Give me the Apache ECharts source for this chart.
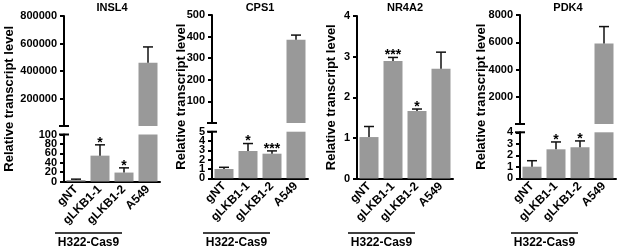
<!DOCTYPE html>
<html>
<head>
<meta charset="utf-8">
<script src="https://cdn.jsdelivr.net/npm/echarts@6/dist/echarts.min.js"></script>
<style>
  html, body { margin: 0; padding: 0; background: #fff; }
  #chart { width: 617px; height: 249px; }
</style>
</head>
<body>
<div id="chart"></div>
<script>
// categories and labels
const categories = ['gNT', 'gLKB1-1', 'gLKB1-2', 'A549'];
const genes = ['INSL4', 'CPS1', 'NR4A2', 'PDK4'];
const groupLabel = 'H322-Cas9';
const yName = 'Relative transcript level';

// means / upper error (SEM) / significance
const insl4Mean = [3, 55, 19, 460000];
const insl4Sem = [2, 23, 10, 115000];
const insl4Stars = ['', '*', '*', ''];

const cps1Mean = [1.0, 2.93, 2.64, 385];
const cps1Sem = [0.18, 0.8, 0.3, 22];
const cps1Stars = ['', '*', '***', ''];

const nr4a2Mean = [1.02, 2.89, 1.66, 2.70];
const nr4a2Sem = [0.26, 0.09, 0.05, 0.41];
const nr4a2Stars = ['', '***', '*', ''];

const pdk4Mean = [1.01, 2.52, 2.70, 5900];
const pdk4Sem = [0.52, 0.64, 0.55, 1250];
const pdk4Stars = ['', '*', '*', ''];

// axis ranges [min, max, interval]; null upper = no axis break
const insl4Upper = [0, 800000, 200000];
const insl4Lower = [0, 100, 20];
const cps1Upper = [0, 500, 100];
const cps1Lower = [0, 5, 1];
const nr4a2Upper = null;
const nr4a2Lower = [0, 4, 1];
const pdk4Upper = [0, 8000, 2000];
const pdk4Lower = [0, 4, 1];

const panels = [
  { mean: insl4Mean, sem: insl4Sem, stars: insl4Stars, upper: insl4Upper, lower: insl4Lower },
  { mean: cps1Mean, sem: cps1Sem, stars: cps1Stars, upper: cps1Upper, lower: cps1Lower },
  { mean: nr4a2Mean, sem: nr4a2Sem, stars: nr4a2Stars, upper: nr4a2Upper, lower: nr4a2Lower },
  { mean: pdk4Mean, sem: pdk4Sem, stars: pdk4Stars, upper: pdk4Upper, lower: pdk4Lower }
];

// layout (pixels)
const layout = [
  { left: 64, upTop: 16, upBottom: 126, lowTop: 134.5, lowBottom: 181.5, nameX: 9 },
  { left: 212, upTop: 15, upBottom: 123, lowTop: 131.7, lowBottom: 178.3, nameX: 181 },
  { left: 357, lowTop: 16, lowBottom: 178.5, nameX: 331 },
  { left: 520, upTop: 15, upBottom: 124, lowTop: 132.3, lowBottom: 178.3, nameX: 481 }
];
const PW = 96;
const FONT = "'Liberation Sans', Arial, sans-serif";
const BAR = '#999999';
const INK = '#111111';

const chart = echarts.init(document.getElementById('chart'), null, { renderer: 'canvas' });

const grid = [], xAxis = [], yAxis = [], series = [];
const yInfo = []; // [axisIndex, range, skipMin, left]
const lowerIdx = [];

function addGrid(left, top, bottom, showX, range, hideMin) {
  const i = grid.length;
  grid.push({ left: left, top: top, width: PW, height: bottom - top });
  xAxis.push({
    type: 'category', gridIndex: i, data: categories, show: showX,
    axisLine: { lineStyle: { color: '#000', width: 2 } },
    axisTick: { alignWithLabel: true, length: 4, lineStyle: { color: '#000', width: 2 } },
    axisLabel: { interval: 0, rotate: 45, margin: 6, color: '#000', fontWeight: 'bold', fontSize: 12, fontFamily: FONT }
  });
  yAxis.push({
    type: 'value', gridIndex: i, min: range[0], max: range[1], interval: range[2],
    splitLine: { show: false },
    axisLine: { show: true, lineStyle: { color: '#000', width: 2 } },
    axisTick: { show: true, length: 4, lineStyle: { color: '#000', width: 2 } },
    axisLabel: { show: false }
  });
  yInfo.push([i, range, hideMin, left]);
  return i;
}

function addSeries(i, p, keep) {
  const bars = p.mean.map((v, k) => keep(v) ? v : '-');
  series.push({
    type: 'bar', xAxisIndex: i, yAxisIndex: i, data: bars,
    barWidth: 19, clip: true, itemStyle: { color: BAR }, silent: true
  });
  const errs = [];
  p.mean.forEach((v, k) => { if (keep(v)) errs.push([k, v, v + p.sem[k]]); });
  const stars = p.stars;
  series.push({
    type: 'custom', xAxisIndex: i, yAxisIndex: i, data: errs, z: 5, silent: true,
    encode: { x: 0, y: [1, 2] },
    renderItem: function (params, api) {
      const k = api.value(0);
      const p0 = api.coord([k, api.value(1)]);
      const p1 = api.coord([k, api.value(2)]);
      const ch = [
        { type: 'line', shape: { x1: p0[0], y1: p0[1], x2: p1[0], y2: p1[1] }, style: { stroke: INK, lineWidth: 1.5 } },
        { type: 'line', shape: { x1: p1[0] - 5, y1: p1[1], x2: p1[0] + 5, y2: p1[1] }, style: { stroke: INK, lineWidth: 1.5 } }
      ];
      if (stars[k]) {
        ch.push({ type: 'text', style: { text: stars[k], x: p1[0], y: p1[1] - 2, align: 'center', verticalAlign: 'middle', font: 'bold 14px ' + FONT, fill: '#000' } });
      }
      return { type: 'group', children: ch };
    }
  });
}

panels.forEach((p, n) => {
  const L = layout[n];
  const lowMax = p.lower[1];
  if (p.upper) {
    const u = addGrid(L.left, L.upTop, L.upBottom, false, p.upper, true);
    addSeries(u, p, v => v > lowMax);
  }
  const d = addGrid(L.left, L.lowTop, L.lowBottom, true, p.lower, false);
  lowerIdx.push(d);
  addSeries(d, p, v => true);
});

chart.setOption({ animation: false, grid: grid, xAxis: xAxis, yAxis: yAxis, series: series });

// annotations: y tick labels, titles, axis names, break marks, group bracket
const graphic = [];
yInfo.forEach(([i, range, skipMin, left]) => {
  for (let v = range[0]; v <= range[1] + 1e-9; v += range[2]) {
    if (skipMin && v === range[0]) continue;
    const y = chart.convertToPixel({ yAxisIndex: i }, v);
    graphic.push({ type: 'text', x: left - 7, y: y, style: { text: String(v), align: 'right', verticalAlign: 'middle', font: 'bold 11px ' + FONT, fill: '#000' } });
  }
});
panels.forEach((p, n) => {
  const L = layout[n];
  const top = p.upper ? L.upTop : L.lowTop;
  graphic.push({ type: 'text', x: L.left + PW / 2, y: 8, style: { text: genes[n], align: 'center', verticalAlign: 'middle', font: 'bold 11px ' + FONT, fill: '#000' } });
  graphic.push({ type: 'text', x: L.nameX, y: (top + L.lowBottom) / 2, rotation: Math.PI / 2, style: { text: yName, align: 'center', verticalAlign: 'middle', font: 'bold 13px ' + FONT, fill: '#000' } });
  if (p.upper) {
    [L.upBottom, L.lowTop].forEach(y => {
      graphic.push({ type: 'line', shape: { x1: L.left - 5, y1: y, x2: L.left + 5, y2: y }, style: { stroke: '#000', lineWidth: 2 } });
    });
  }
  const xi = lowerIdx[n];
  const c2 = chart.convertToPixel({ xAxisIndex: xi }, categories[2]);
  graphic.push({ type: 'line', shape: { x1: L.left - 9, y1: 233, x2: c2 - 2, y2: 233 }, style: { stroke: '#000', lineWidth: 1.5 } });
  graphic.push({ type: 'text', x: (L.left - 9 + c2 - 2) / 2, y: 243, style: { text: groupLabel, align: 'center', verticalAlign: 'middle', font: 'bold 12px ' + FONT, fill: '#000' } });
});
chart.setOption({ graphic: graphic });
</script>
</body>
</html>
